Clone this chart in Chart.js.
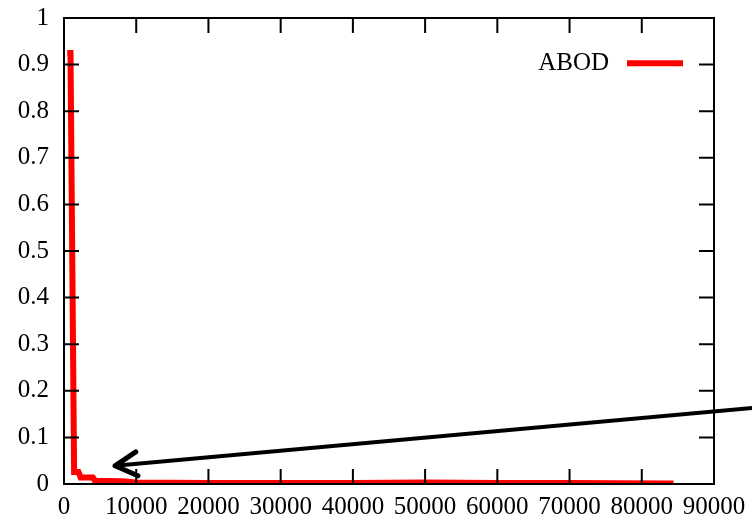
<!DOCTYPE html>
<html>
<head>
<meta charset="utf-8">
<script src="https://cdn.jsdelivr.net/npm/chart.js@4"></script>
<style>
  html, body { margin: 0; padding: 0; background: #fff; }
  #wrap { width: 752px; height: 521px; }
</style>
</head>
<body>
<div id="wrap"><canvas id="abod-chart" width="752" height="521"></canvas></div>
<script>
// ABOD curve
var seriesLabel = 'ABOD';
var xValues = [450, 900, 1400, 2000, 2300, 4000, 4300, 8000, 10000, 20000, 30000, 40000, 50000, 60000, 70000, 84400];
var yValues = [0.925, 0.925, 0.026, 0.026, 0.014, 0.014, 0.007, 0.006, 0.003, 0.002, 0.002, 0.002, 0.003, 0.002, 0.002, 0.001];
var xTicks = [0, 10000, 20000, 30000, 40000, 50000, 60000, 70000, 80000, 90000];
var yTicks = [0, 0.1, 0.2, 0.3, 0.4, 0.5, 0.6, 0.7, 0.8, 0.9, 1];
// arrow annotation, in data units (tail runs off the right edge)
var arrowFrom = { x: 95300, y: 0.163 };
var arrowTo = { x: 7060, y: 0.039 };

var FONT = 'Liberation Serif, Times New Roman, serif';
var FONT_SIZE = 25;

var points = xValues.map(function (x, i) { return { x: x, y: yValues[i] }; });

// gnuplot style frame with inward ticks, legend and arrow
var gnuplotFrame = {
  id: 'gnuplotFrame',
  afterDatasetsDraw: function (chart) {
    var ctx = chart.ctx;
    var a = chart.chartArea;
    var xs = chart.scales.x, ys = chart.scales.y;
    var tick = 15;
    ctx.save();
    ctx.strokeStyle = '#000';
    ctx.lineWidth = 2;
    ctx.beginPath();
    xTicks.forEach(function (v) {
      var px = xs.getPixelForValue(v);
      ctx.moveTo(px, a.bottom); ctx.lineTo(px, a.bottom - tick);
      ctx.moveTo(px, a.top); ctx.lineTo(px, a.top + tick);
    });
    yTicks.forEach(function (v) {
      var py = ys.getPixelForValue(v);
      ctx.moveTo(a.left, py); ctx.lineTo(a.left + tick, py);
      ctx.moveTo(a.right, py); ctx.lineTo(a.right - tick, py);
    });
    ctx.stroke();
    ctx.strokeRect(a.left, a.top, a.right - a.left, a.bottom - a.top);

    // legend
    var ly = ys.getPixelForValue(0.903);
    ctx.fillStyle = '#000';
    ctx.font = FONT_SIZE + 'px ' + FONT;
    ctx.textAlign = 'right';
    ctx.textBaseline = 'middle';
    ctx.fillText(seriesLabel, a.right - 105, ly);
    ctx.strokeStyle = '#ff0000';
    ctx.lineWidth = 6;
    ctx.beginPath();
    ctx.moveTo(a.right - 87, ly);
    ctx.lineTo(a.right - 31, ly);
    ctx.stroke();

    // arrow
    var x1 = xs.getPixelForValue(arrowFrom.x), y1 = ys.getPixelForValue(arrowFrom.y);
    var x2 = xs.getPixelForValue(arrowTo.x), y2 = ys.getPixelForValue(arrowTo.y);
    var ang = Math.atan2(y1 - y2, x1 - x2);
    var head = 25, spread = 0.5;
    ctx.strokeStyle = '#000';
    ctx.lineWidth = 4;
    ctx.lineCap = 'round';
    ctx.lineJoin = 'round';
    ctx.beginPath();
    ctx.moveTo(x1, y1); ctx.lineTo(x2, y2);
    ctx.stroke();
    ctx.lineWidth = 5;
    ctx.beginPath();
    ctx.moveTo(x2 + head * Math.cos(ang + spread), y2 + head * Math.sin(ang + spread));
    ctx.lineTo(x2, y2);
    ctx.lineTo(x2 + head * Math.cos(ang - spread), y2 + head * Math.sin(ang - spread));
    ctx.stroke();
    ctx.restore();
  }
};

var ctx = document.getElementById('abod-chart').getContext('2d');

var myChart = new Chart(ctx, {
  type: 'line',
  data: {
    datasets: [{
      label: seriesLabel,
      data: points,
      borderColor: '#ff0000',
      backgroundColor: '#ff0000',
      borderWidth: 6,
      pointRadius: 0,
      tension: 0,
      fill: false
    }]
  },
  options: {
    responsive: false,
    animation: false,
    layout: { padding: { top: 18, right: 38, left: 0, bottom: 0 } },
    plugins: { legend: { display: false }, tooltip: { enabled: false } },
    scales: {
      x: {
        type: 'linear',
        min: 0,
        max: 90000,
        afterBuildTicks: function (s) { s.ticks = xTicks.map(function (v) { return { value: v }; }); },
        afterFit: function (s) { s.height = 37; s.paddingLeft = 0; s.paddingRight = 0; },
        grid: { display: false, drawTicks: false },
        border: { display: false },
        ticks: {
          color: '#000',
          padding: 8,
          maxRotation: 0,
          autoSkip: false,
          font: { family: FONT, size: FONT_SIZE },
          callback: function (v) { return String(v); }
        }
      },
      y: {
        type: 'linear',
        min: 0,
        max: 1,
        afterBuildTicks: function (s) { s.ticks = yTicks.map(function (v) { return { value: v }; }); },
        afterFit: function (s) { s.width = 64; s.paddingTop = 0; s.paddingBottom = 0; },
        grid: { display: false, drawTicks: false },
        border: { display: false },
        ticks: {
          color: '#000',
          padding: 15,
          autoSkip: false,
          font: { family: FONT, size: FONT_SIZE },
          callback: function (v) { return String(Math.round(v * 10) / 10); }
        }
      }
    }
  },
  plugins: [gnuplotFrame]
});
</script>
</body>
</html>
